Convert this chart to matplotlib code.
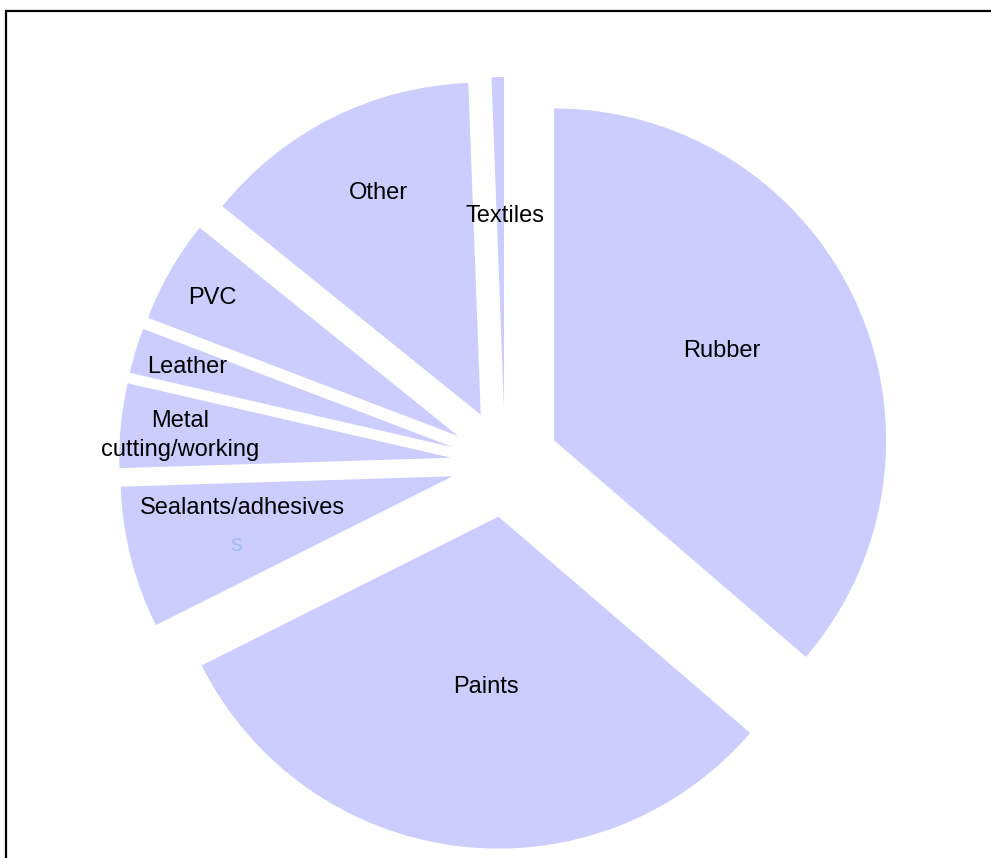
import numpy as np
import matplotlib.pyplot as plt
from matplotlib.patches import Rectangle
from matplotlib import font_manager

names = ["Rubber", "Paints", "Sealants/adhesives", "Metal\ncutting/working",
         "Leather", "PVC", "Other", "Textiles"]
shares = [36.3, 31.3, 6.9, 4.1, 2.2, 5.0, 13.6, 0.6]

# where each label sits inside its slice (fraction of radius, degrees off the mid angle)
label_dist = [0.576, 0.508, 0.64, 0.82, 0.84, 0.853, 0.742, 0.587]
label_turn = [4.0, 2.9, -6.2, 0.5, -0.2, 0.2, -2.0, -1.4]

avail = {f.name for f in font_manager.fontManager.ttflist}
font = "Liberation Sans Narrow" if "Liberation Sans Narrow" in avail else "Liberation Sans"
size = 18.5 if font == "Liberation Sans Narrow" else 17

W, H = 991, 858
fig = plt.figure(figsize=(W / 100, H / 100), dpi=100)
ax = fig.add_axes([0, 0, 1, 1])

R = 332
wedges, _ = ax.pie(shares, startangle=90, counterclock=False,
                   colors=["#ccccff"] * len(shares), explode=[54] * len(shares),
                   center=(505, H - 463), radius=R,
                   wedgeprops=dict(linewidth=0))
ax.set_xlim(0, W)
ax.set_ylim(0, H)
ax.set_aspect("equal")
ax.axis("off")

for w, name, d, t in zip(wedges, names, label_dist, label_turn):
    a = np.deg2rad((w.theta1 + w.theta2) / 2 + t)
    cx, cy = w.center
    ax.text(cx + d * R * np.cos(a), cy + d * R * np.sin(a) - 2, name,
            ha="center", va="center", fontsize=size, family=font,
            linespacing=1.45)

# stray letter under the sealants label
w = wedges[2]
a = np.deg2rad((w.theta1 + w.theta2) / 2 + 2.9)
ax.text(w.center[0] + 0.682 * R * np.cos(a), w.center[1] + 0.682 * R * np.sin(a) - 2, "s",
        ha="center", va="center", fontsize=size, family=font, color="#9fbcf8")

fig.patches.append(Rectangle((6 / W, -0.1), 1.2, 1.1 - 11 / H,
                             transform=fig.transFigure, fill=False,
                             edgecolor="black", linewidth=1.6))

fig.savefig("out.png", dpi=100)
